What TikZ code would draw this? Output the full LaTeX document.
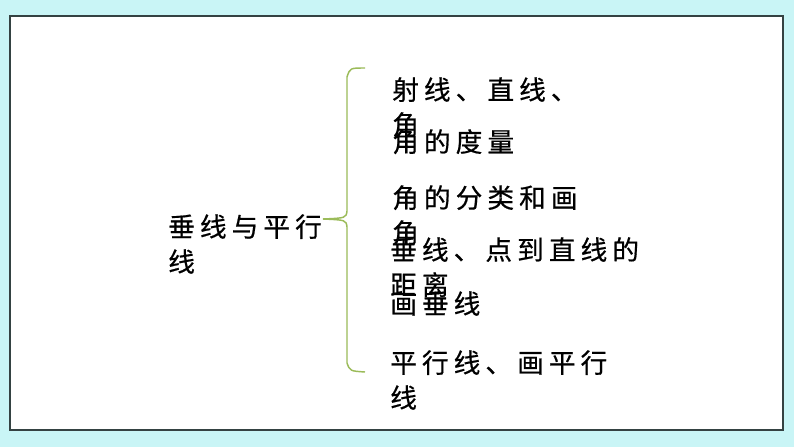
\documentclass[tikz,border=0pt]{standalone}
\usepackage{fontspec}
\newfontfamily\cjk[LetterSpace=19,FakeBold=0.6]{Noto Sans CJK SC}
\definecolor{bgcyan}{RGB}{201,245,246}
\definecolor{framegray}{RGB}{52,66,66}
\definecolor{braceolive}{RGB}{155,187,89}
\begin{document}
\begin{tikzpicture}[x=0.75pt,y=0.75pt,yscale=-1,xscale=1,
	item/.style={anchor=north west,inner sep=0pt,align=left,font=\cjk\fontsize{20}{26.25}\selectfont},
	brace/.style={braceolive,line width=1.1pt}]
		% slide frame
		\fill [bgcyan] (0,0) rectangle (794,447);
		\draw [framegray, line width=1.1pt, fill=white] (10,16) rectangle (783,430);

		\node [item] (topic) at (168,214) {垂线与平行\\线};

		% brace
		\coordinate (tip) at (323,219);
		\draw [brace] (365,68) .. controls (350,68) .. (347,77) -- (347,211) .. controls (346,218) .. (tip);
		\draw [brace] (tip) .. controls (346,220) .. (347,227) -- (347,363) .. controls (350,371) .. (365,372);

		\node [item] (ray) at (392,77) {射线、直线、\\角};
		\node [item] (measure) at (392,129) {角的度量};
		\node [item] (classify) at (392,185) {角的分类和画\\角};
		\node [item] (perp) at (390,237) {垂线、点到直线的\\距离};
		\node [item] (drawperp) at (390,291) {画垂线};
		\node [item] (parallel) at (390,350) {平行线、画平行\\线};
		\end{tikzpicture}
\end{document}
